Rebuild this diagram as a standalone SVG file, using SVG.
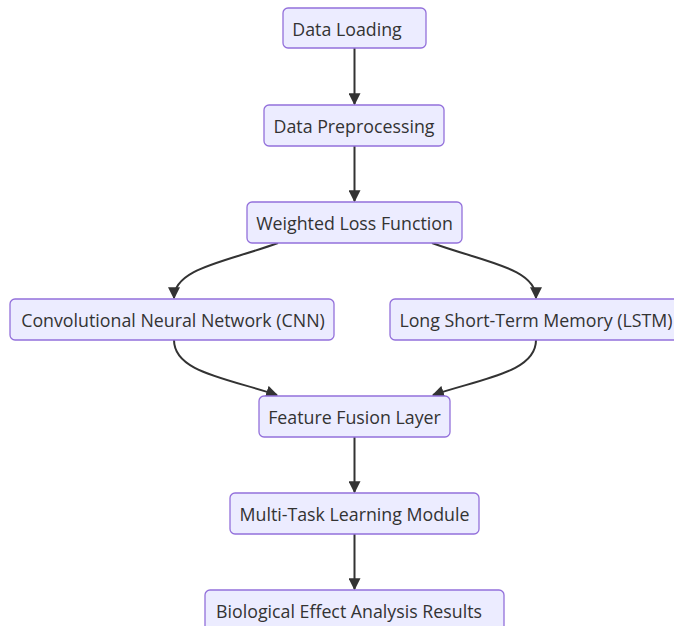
<svg xmlns="http://www.w3.org/2000/svg" width="674" height="626" viewBox="0 0 674 626">
<defs>
<marker id="arr" viewBox="0 0 10 10" refX="9" refY="5" markerWidth="12" markerHeight="12" markerUnits="userSpaceOnUse" orient="auto">
<path d="M0,0 L10,5 L0,10 z" fill="#333"/>
</marker>
<style>
.n rect{fill:#ECECFF;stroke:#9370DB;stroke-width:1.3}
.n text{font-family:"Open Sans","Noto Sans",sans-serif;font-size:17.8px;fill:#333;text-anchor:middle;dominant-baseline:central}
.e path{fill:none;stroke:#333;stroke-width:2;marker-end:url(#arr)}
</style>
</defs>
<rect width="674" height="626" fill="#ffffff"/>
<g class="e" id="edges">
<path d="M354.5,48 L354.5,104"/>
<path d="M354.5,146 L354.5,201"/>
<path d="M278,243 C226,262 174,268 174,298"/>
<path d="M432,243 C484,262 536,268 536,298"/>
<path d="M174,340 C174,372 226,378 277,395"/>
<path d="M536,340 C536,372 484,378 433,395"/>
<path d="M354.5,437 L354.5,492"/>
<path d="M354.5,534 L354.5,589"/>
</g>
<g class="n" id="dataLoading"><rect x="283" y="8" width="143" height="40" rx="5"/><text x="347" y="28.5">Data Loading</text></g>
<g class="n" id="dataPreprocessing"><rect x="264" y="105" width="180" height="41" rx="5"/><text x="354" y="125.5">Data Preprocessing</text></g>
<g class="n" id="weightedLoss"><rect x="247" y="202" width="215" height="41" rx="5"/><text x="354.5" y="222.5">Weighted Loss Function</text></g>
<g class="n" id="cnn"><rect x="10" y="299" width="324" height="41" rx="5"/><text x="173" y="319.5">Convolutional Neural Network (CNN)</text></g>
<g class="n" id="lstm"><rect x="390" y="299" width="300" height="41" rx="5"/><text x="536" y="319.5">Long Short-Term Memory (LSTM)</text></g>
<g class="n" id="featureFusion"><rect x="259" y="396" width="191" height="41" rx="5"/><text x="354.5" y="416.5">Feature Fusion Layer</text></g>
<g class="n" id="multiTask"><rect x="230" y="493" width="249" height="41" rx="5"/><text x="354.5" y="513.5">Multi-Task Learning Module</text></g>
<g class="n" id="bioResults"><rect x="205" y="590" width="299" height="41" rx="5"/><text x="349" y="610.5">Biological Effect Analysis Results</text></g>
</svg>
